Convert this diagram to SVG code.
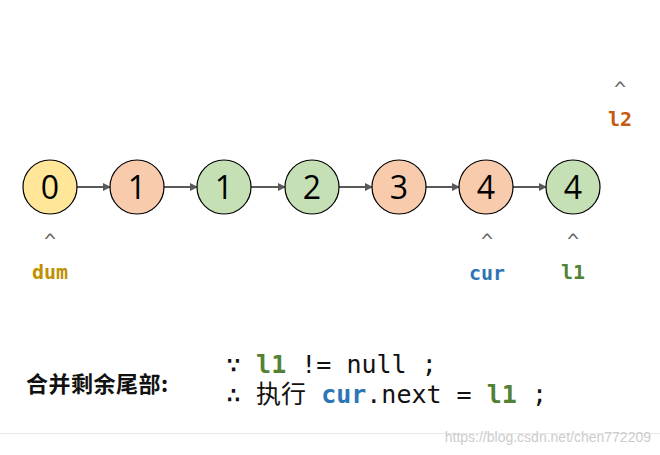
<svg xmlns="http://www.w3.org/2000/svg" width="660" height="455" viewBox="0 0 660 455">
<style>
.n{stroke:#000;stroke-width:1.2}
.v{font-family:"Open Sans","DejaVu Sans",sans-serif;font-size:32px;text-anchor:middle}
.c{font-family:"DejaVu Sans Mono",monospace;font-size:20px;fill:#666;text-anchor:middle}
.p{font-family:"DejaVu Sans Mono",monospace;font-size:20px;font-weight:bold;text-anchor:middle}
.m{font-family:"DejaVu Sans Mono","Noto Sans CJK SC",monospace;font-size:25px;fill:#111}
.e{stroke:#595959;stroke-width:2;marker-end:url(#a)}
</style>
<defs><marker id="a" markerWidth="8" markerHeight="8" refX="7" refY="4" orient="auto" markerUnits="userSpaceOnUse"><path d="M0,0L8,4L0,8z" fill="#595959"/></marker></defs>
<rect width="660" height="455" fill="#fff"/>
<g id="edges">
<line class="e" x1="77" y1="187" x2="110" y2="187"/>
<line class="e" x1="164" y1="187" x2="197" y2="187"/>
<line class="e" x1="251" y1="187" x2="285" y2="187"/>
<line class="e" x1="339" y1="187" x2="372" y2="187"/>
<line class="e" x1="426" y1="187" x2="459" y2="187"/>
<line class="e" x1="513" y1="187" x2="546" y2="187"/>
</g>
<g id="n0"><circle class="n" cx="50" cy="187" r="27" fill="#ffe699"/><text class="v" x="50" y="199">0</text></g>
<g id="n1"><circle class="n" cx="137" cy="187" r="27" fill="#f8cbad"/><text class="v" x="137" y="199">1</text></g>
<g id="n2"><circle class="n" cx="224" cy="187" r="27" fill="#c5e0b4"/><text class="v" x="224" y="199">1</text></g>
<g id="n3"><circle class="n" cx="312" cy="187" r="27" fill="#c5e0b4"/><text class="v" x="312" y="199">2</text></g>
<g id="n4"><circle class="n" cx="399" cy="187" r="27" fill="#f8cbad"/><text class="v" x="399" y="199">3</text></g>
<g id="n5"><circle class="n" cx="486" cy="187" r="27" fill="#f8cbad"/><text class="v" x="486" y="199">4</text></g>
<g id="n6"><circle class="n" cx="573" cy="187" r="27" fill="#c5e0b4"/><text class="v" x="573" y="199">4</text></g>
<g id="ptrs">
<text class="c" x="50" y="248">^</text><text class="p" x="50" y="279" fill="#bf9000">dum</text>
<text class="c" x="487" y="248">^</text><text class="p" x="487" y="280" fill="#2e75b6">cur</text>
<text class="c" x="573" y="248">^</text><text class="p" x="573" y="279" fill="#548235">l1</text>
<text class="c" x="620" y="96">^</text><text class="p" x="620" y="126" fill="#c55a11">l2</text>
</g>
<g id="note">
<text x="26" y="392" font-family="'Noto Sans CJK SC',sans-serif" font-size="22" letter-spacing="0.5" font-weight="bold" fill="#111">合并剩余尾部:</text>
<text class="m" x="226" y="373">∵ <tspan fill="#548235" font-weight="bold">l1</tspan> != null ;</text>
<text class="m" x="226" y="403">∴ 执行 <tspan fill="#2e75b6" font-weight="bold">cur</tspan>.next = <tspan fill="#548235" font-weight="bold">l1</tspan> ;</text>
</g>
<line x1="0" y1="433.5" x2="660" y2="433.5" stroke="#e8e8e8"/>
<text x="651" y="442" text-anchor="end" font-family="'Liberation Sans',sans-serif" font-size="14" fill="#ccc">https://blog.csdn.net/chen772209</text>
</svg>
